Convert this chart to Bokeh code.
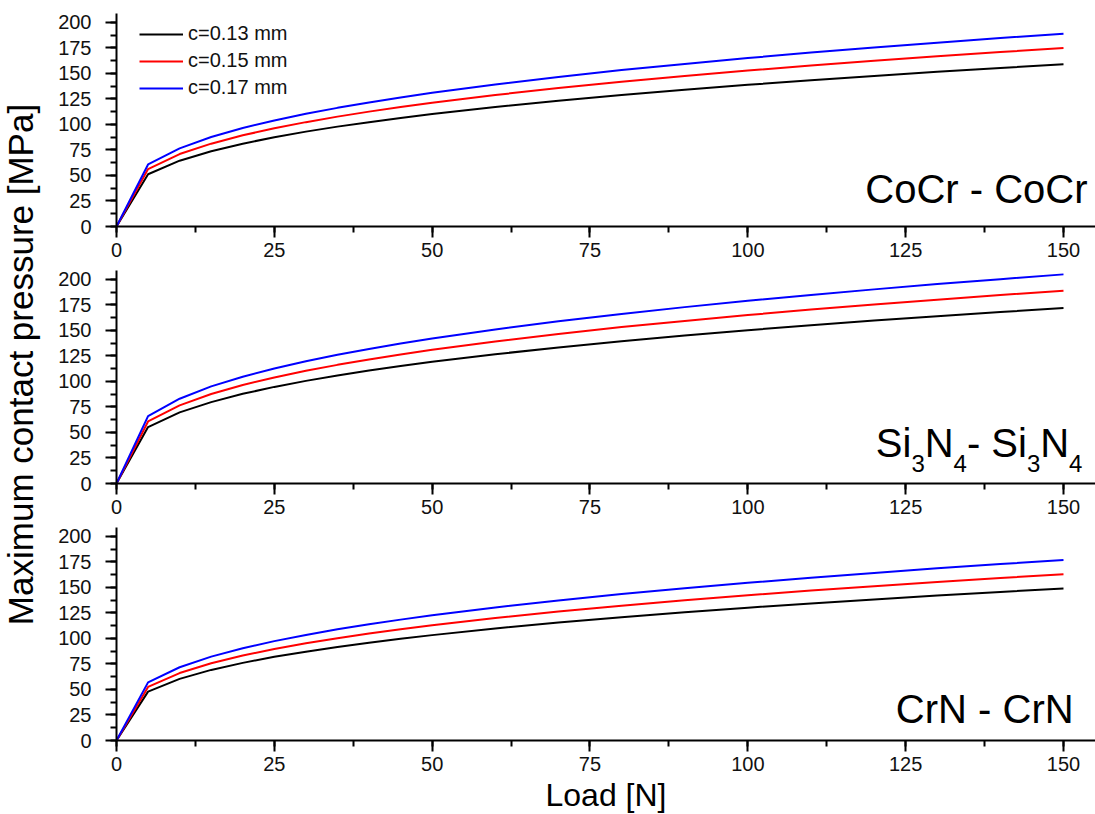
import math
from bokeh.plotting import figure
from bokeh.models import Range1d, SingleIntervalTicker, Label, Legend, LegendItem
from bokeh.layouts import row, column
from bokeh.embed import file_html
from bokeh.resources import INLINE

# ---------------- data ----------------
load = [0, 5, 10, 15, 20, 25, 30, 35, 40, 45, 50, 60, 70, 80, 90, 100, 110, 120, 130, 140, 150]
series_labels = ["c=0.13 mm", "c=0.15 mm", "c=0.17 mm"]

cocr_013 = [0, 51.2, 64.5, 73.8, 81.2, 87.5, 93.0, 97.9, 102.3, 106.4, 110.3, 117.2, 123.3, 128.9, 134.1, 138.9, 143.4, 147.6, 151.6, 155.4, 159]
cocr_015 = [0, 56.3, 71.0, 81.2, 89.4, 96.3, 102.3, 107.7, 112.6, 117.1, 121.3, 128.9, 135.7, 141.9, 147.6, 152.9, 157.8, 162.5, 166.9, 171.0, 175]
cocr_017 = [0, 60.8, 76.6, 87.7, 96.6, 104.0, 110.5, 116.3, 121.6, 126.5, 131.1, 139.3, 146.6, 153.3, 159.4, 165.1, 170.5, 175.4, 180.2, 184.7, 189]

si3n4_013 = [0, 55.3, 69.7, 79.8, 87.9, 94.7, 100.6, 105.9, 110.7, 115.1, 119.3, 126.7, 133.4, 139.5, 145.1, 150.3, 155.1, 159.7, 164.0, 168.1, 172]
si3n4_015 = [0, 60.8, 76.6, 87.7, 96.6, 104.0, 110.5, 116.3, 121.6, 126.5, 131.1, 139.3, 146.6, 153.3, 159.4, 165.1, 170.5, 175.4, 180.2, 184.7, 189]
si3n4_017 = [0, 66.0, 83.1, 95.2, 104.7, 112.8, 119.9, 126.2, 131.9, 137.2, 142.1, 151.0, 159.0, 166.2, 172.9, 179.1, 184.9, 190.3, 195.5, 200.3, 205]

crn_013 = [0, 47.9, 60.4, 69.2, 76.1, 82.0, 87.1, 91.7, 95.9, 99.7, 103.3, 109.8, 115.6, 120.8, 125.7, 130.2, 134.4, 138.3, 142.1, 145.6, 149]
crn_015 = [0, 52.5, 66.1, 75.7, 83.3, 89.7, 95.3, 100.3, 104.9, 109.1, 113.0, 120.1, 126.4, 132.2, 137.5, 142.4, 147.0, 151.3, 155.4, 159.3, 163]
crn_017 = [0, 57.0, 71.8, 82.2, 90.4, 97.4, 103.5, 109.0, 113.9, 118.5, 122.7, 130.4, 137.3, 143.5, 149.3, 154.6, 159.6, 164.3, 168.8, 173.0, 177]

x_label = "Load [N]"
y_label = "Maximum contact pressure [MPa]"

# ---------------- styles ----------------
FONT = "Liberation Sans"
colors = ["#000000", "#ff0000", "#0000ff"]
FRAME_W = 979
FRAME_H = 213
LEFT = 62
X_MAX = 155.07
Y_MAX = 208.8
BIG = 40
SUB = 24


def make_panel(series, top=6, bottom=38, last=False):
    p = figure(frame_width=FRAME_W, frame_height=FRAME_H,
               x_range=Range1d(0, X_MAX), y_range=Range1d(0, Y_MAX),
               output_backend="svg", toolbar_location=None,
               min_border_left=LEFT, min_border_right=0,
               min_border_top=top, min_border_bottom=bottom,
               background_fill_color="white", border_fill_color="white")
    p.outline_line_color = None
    p.xgrid.visible = False
    p.ygrid.visible = False
    renderers = []
    for ys, c in zip(series, colors):
        r = p.line(load, ys, line_color=c, line_width=2)
        renderers.append(r)
    for ax in (p.xaxis[0], p.yaxis[0]):
        ax.ticker = SingleIntervalTicker(interval=25, num_minor_ticks=2)
        ax.axis_line_width = 2
        ax.axis_line_color = "black"
        ax.major_tick_line_width = 2
        ax.minor_tick_line_width = 2
        ax.major_tick_out = 11
        ax.major_tick_in = 0
        ax.minor_tick_out = 6
        ax.minor_tick_in = 0
        ax.major_label_text_font = FONT
        ax.major_label_text_font_size = "20px"
        ax.major_label_text_color = "#111111"
    p.xaxis.major_label_standoff = 5
    p.yaxis.major_label_standoff = 14
    if last:
        p.xaxis.axis_label = x_label
        p.xaxis.axis_label_text_font = FONT
        p.xaxis.axis_label_text_font_size = "32px"
        p.xaxis.axis_label_text_font_style = "normal"
        p.xaxis.axis_label_text_color = "black"
        p.xaxis.axis_label_standoff = 3
    return p, renderers


p1, r1 = make_panel([cocr_013, cocr_015, cocr_017], top=13)
p2, r2 = make_panel([si3n4_013, si3n4_015, si3n4_017])
p3, r3 = make_panel([crn_013, crn_015, crn_017], bottom=0, last=True)

legend = Legend(items=[LegendItem(label=lab, renderers=[r]) for lab, r in zip(series_labels, r1)],
                location=(23, 127), orientation="vertical",
                glyph_width=44, glyph_height=20, label_height=20, spacing=4,
                label_standoff=5, padding=0, margin=0,
                label_text_font=FONT, label_text_font_size="20px",
                label_text_color="#111111",
                background_fill_alpha=0, border_line_alpha=0)
p1.add_layout(legend)

big = dict(text_font=FONT, text_font_size=f"{BIG}px", text_color="black",
           text_baseline="alphabetic", y_offset=0.36 * BIG)

p1.add_layout(Label(x=153.8, y=22.5, text="CoCr - CoCr", text_align="right", **big))
p3.add_layout(Label(x=151.6, y=16.7, text="CrN - CrN", text_align="right", **big))

# Si3N4 - Si3N4 with subscripts, built right-to-left
sub = dict(text_font=FONT, text_font_size=f"{SUB}px", text_color="black",
           text_baseline="alphabetic", text_align="right", y_offset=0.36 * SUB)
xr = 153.0
y_main = 25.5
y_sub = 10.8
pieces = [("4", "sub"), ("N", "main"), ("3", "sub"), ("- Si", "main"),
          ("4", "sub"), ("N", "main"), ("3", "sub"), ("Si", "main")]
widths = {"4": 13.3, "3": 13.3, "N": 28.9, "- Si": 60.0, "Si": 35.6}
off = 0.0
for txt, kind in pieces:
    if kind == "sub":
        p2.add_layout(Label(x=xr, y=y_sub, x_offset=-off, text=txt, **sub))
    else:
        p2.add_layout(Label(x=xr, y=y_main, x_offset=-off, text=txt,
                            text_align="right", **big))
    off += widths[txt]

# left column with the shared y-axis title
TOTAL_H = 814
lab_fig = figure(width=54, height=TOTAL_H, x_range=Range1d(0, 54), y_range=Range1d(0, TOTAL_H),
                 output_backend="svg", toolbar_location=None,
                 x_axis_location=None, y_axis_location=None,
                 min_border=0, min_border_left=0, min_border_right=0,
                 min_border_top=0, min_border_bottom=0)
lab_fig.outline_line_color = None
lab_fig.xgrid.visible = False
lab_fig.ygrid.visible = False
lab_fig.add_layout(Label(x=20, y=450, text=y_label, angle=math.pi / 2,
                         text_align="center", text_baseline="alphabetic",
                         text_font=FONT, text_font_size="35px", text_color="black"))

layout = row(lab_fig, column(p1, p2, p3))

open("out.html", "w").write(file_html(layout, INLINE))
